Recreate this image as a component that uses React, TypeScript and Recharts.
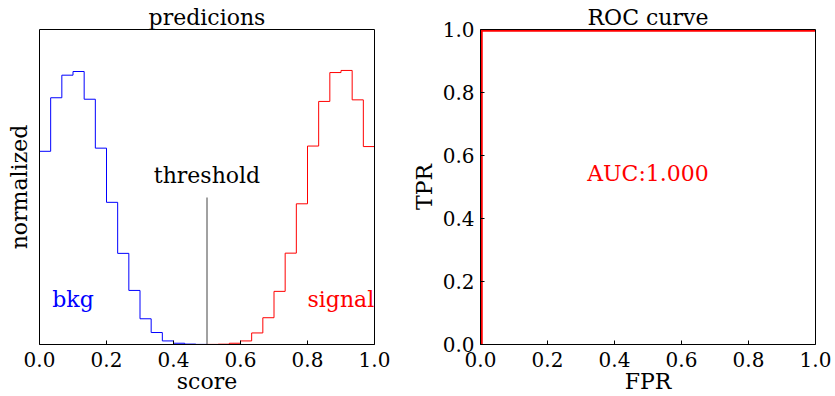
import { LineChart, Line, XAxis, YAxis, ReferenceLine, ReferenceDot, Label } from 'recharts'

const FONT = '"DejaVu Serif", serif'
const BINS = 30

// normalized histogram heights per bin (0..1 in 30 bins)
const BKG = [
  1.84, 2.35, 2.565, 2.6, 2.336, 1.87, 1.354, 0.868, 0.515, 0.245,
  0.114, 0.034, 0.012, 0.004, 0.001, 0, 0, 0, 0, 0,
  0, 0, 0, 0, 0, 0, 0, 0, 0, 0,
]
const SIGNAL = [
  0, 0, 0, 0, 0, 0, 0, 0, 0, 0,
  0, 0, 0, 0, 0, 0.001, 0.003, 0.012, 0.034, 0.11,
  0.255, 0.506, 0.87, 1.34, 1.89, 2.315, 2.59, 2.61, 2.33, 1.885,
]

const ROC_FPR = [0, 0, 1]
const ROC_TPR = [0, 1, 1]

const X_TICKS = [0, 0.2, 0.4, 0.6, 0.8, 1.0]
const HIST_Y_TICKS = [0, 0.2, 0.4, 0.6, 0.8, 1.0, 1.2, 1.4, 1.6, 1.8, 2.0, 2.2, 2.4, 2.6, 2.8, 3.0]
const ROC_Y_TICKS = [0, 0.2, 0.4, 0.6, 0.8, 1.0]

const THRESHOLD = 0.5
const THRESHOLD_TOP = 1.4

const HIST_ROWS = [
  { x: 0, bkg: 0, sig: 0 },
  ...BKG.map((b, i) => ({ x: i / BINS, bkg: b, sig: SIGNAL[i] })),
  { x: 1, bkg: BKG[BINS - 1], sig: SIGNAL[BINS - 1] },
  { x: 1, bkg: 0, sig: 0 },
]
const ROC_ROWS = ROC_FPR.map((f, i) => ({ fpr: f, tpr: ROC_TPR[i] }))

const fmt = (v: number) => v.toFixed(1)
const tickStyle = { fill: '#000', fontSize: 20, fontFamily: FONT }
const TEXT_SIZE = 22

// text placed relative to the centre of an axis box
const boxText = (text: string, dx: number, dy: number, rotate = false) => (props: any) => {
  const vb = props.viewBox
  const x = vb.x + vb.width / 2 + dx
  const y = vb.y + vb.height / 2 + dy
  return (
    <text x={x} y={y} textAnchor="middle" fill="#000" fontSize={TEXT_SIZE} fontFamily={FONT}
      dominantBaseline={rotate ? 'central' : 'auto'}
      transform={rotate ? `rotate(-90 ${x} ${y})` : undefined}>
      {text}
    </text>
  )
}

// text at a data point
const dotText = (text: string, color: string, anchor: 'start' | 'middle') => (props: any) => {
  const vb = props.viewBox
  return (
    <text x={vb.x + vb.width / 2} y={vb.y + vb.height / 2} textAnchor={anchor}
      fill={color} fontSize={TEXT_SIZE} fontFamily={FONT}>
      {text}
    </text>
  )
}

export default function App() {
  return (
    <div style={{ position: 'absolute', left: 0, top: 0, width: 835, height: 396, background: '#fff' }}>
      <div style={{ position: 'absolute', left: 0, top: 0 }}>
        <LineChart width={400} height={396} data={HIST_ROWS} margin={{ top: 0, right: 0, bottom: 0, left: 0 }}>
          <XAxis dataKey="x" type="number" domain={[0, 1]} ticks={X_TICKS} tickFormatter={fmt}
            height={51.5} tickSize={-4} tickMargin={12} interval={0} allowDataOverflow
            axisLine={{ stroke: '#000' }} tickLine={{ stroke: '#000' }} tick={tickStyle}>
            <Label content={boxText('score', 0, 18.75)} />
          </XAxis>
          <XAxis xAxisId="top" orientation="top" dataKey="x" type="number" domain={[0, 1]} ticks={X_TICKS}
            height={29.5} tickSize={-4} interval={0} tick={false}
            axisLine={{ stroke: '#000' }} tickLine={{ stroke: '#000' }}>
            <Label content={boxText('predicions', 0, 10.25)} />
          </XAxis>
          <YAxis type="number" domain={[0, 3]} ticks={HIST_Y_TICKS} width={39.5} tickSize={-4} interval={0}
            tick={false} allowDataOverflow axisLine={{ stroke: '#000' }} tickLine={{ stroke: '#000' }}>
            <Label content={boxText('normalized', -0.75, 0, true)} />
          </YAxis>
          <YAxis yAxisId="right" orientation="right" type="number" domain={[0, 3]} ticks={HIST_Y_TICKS}
            width={25.5} tickSize={-4} interval={0} tick={false}
            axisLine={{ stroke: '#000' }} tickLine={{ stroke: '#000' }} />
          <Line type="stepAfter" dataKey="sig" stroke="#ff0000" strokeWidth={1} dot={false} isAnimationActive={false} />
          <Line type="stepAfter" dataKey="bkg" stroke="#0000ff" strokeWidth={1} dot={false} isAnimationActive={false} />
          <ReferenceLine segment={[{ x: THRESHOLD, y: 0 }, { x: THRESHOLD, y: THRESHOLD_TOP }]}
            stroke="#444" strokeWidth={1} />
          <ReferenceDot x={THRESHOLD} y={1.538} r={1} fill="none" stroke="none"
            label={{ content: dotText('threshold', '#000', 'middle') }} />
          <ReferenceDot x={0.038} y={0.356} r={1} fill="none" stroke="none"
            label={{ content: dotText('bkg', '#0000ff', 'start') }} />
          <ReferenceDot x={0.8} y={0.356} r={1} fill="none" stroke="none" ifOverflow="hidden"
            label={{ content: dotText('signal', '#ff0000', 'start') }} />
        </LineChart>
      </div>
      <div style={{ position: 'absolute', left: 400, top: 0 }}>
        <LineChart width={435} height={396} data={ROC_ROWS} margin={{ top: 0, right: 0, bottom: 0, left: 0 }}>
          <XAxis dataKey="fpr" type="number" domain={[0, 1]} ticks={X_TICKS} tickFormatter={fmt}
            height={51.5} tickSize={-4} tickMargin={12} interval={0} allowDataOverflow
            axisLine={{ stroke: '#000' }} tickLine={{ stroke: '#000' }} tick={tickStyle}>
            <Label content={boxText('FPR', 0, 18.75)} />
          </XAxis>
          <XAxis xAxisId="top" orientation="top" dataKey="fpr" type="number" domain={[0, 1]} ticks={X_TICKS}
            height={29.5} tickSize={-4} interval={0} tick={false}
            axisLine={{ stroke: '#000' }} tickLine={{ stroke: '#000' }}>
            <Label content={boxText('ROC curve', 0, 10.25)} />
          </XAxis>
          <YAxis type="number" domain={[0, 1]} ticks={ROC_Y_TICKS} tickFormatter={fmt} width={80.5}
            tickSize={-4} tickMargin={10} interval={0} allowDataOverflow
            axisLine={{ stroke: '#000' }} tickLine={{ stroke: '#000' }} tick={tickStyle}>
            <Label content={boxText('TPR', -16.25, 0, true)} />
          </YAxis>
          <YAxis yAxisId="right" orientation="right" type="number" domain={[0, 1]} ticks={ROC_Y_TICKS}
            width={19.5} tickSize={-4} interval={0} tick={false}
            axisLine={{ stroke: '#000' }} tickLine={{ stroke: '#000' }} />
          <Line type="linear" dataKey="tpr" stroke="#ff0000" strokeWidth={4.5} dot={false} isAnimationActive={false} />
          <ReferenceDot x={0.5} y={0.519} r={1} fill="none" stroke="none"
            label={{ content: dotText('AUC:1.000', '#ff0000', 'middle') }} />
        </LineChart>
      </div>
    </div>
  )
}
